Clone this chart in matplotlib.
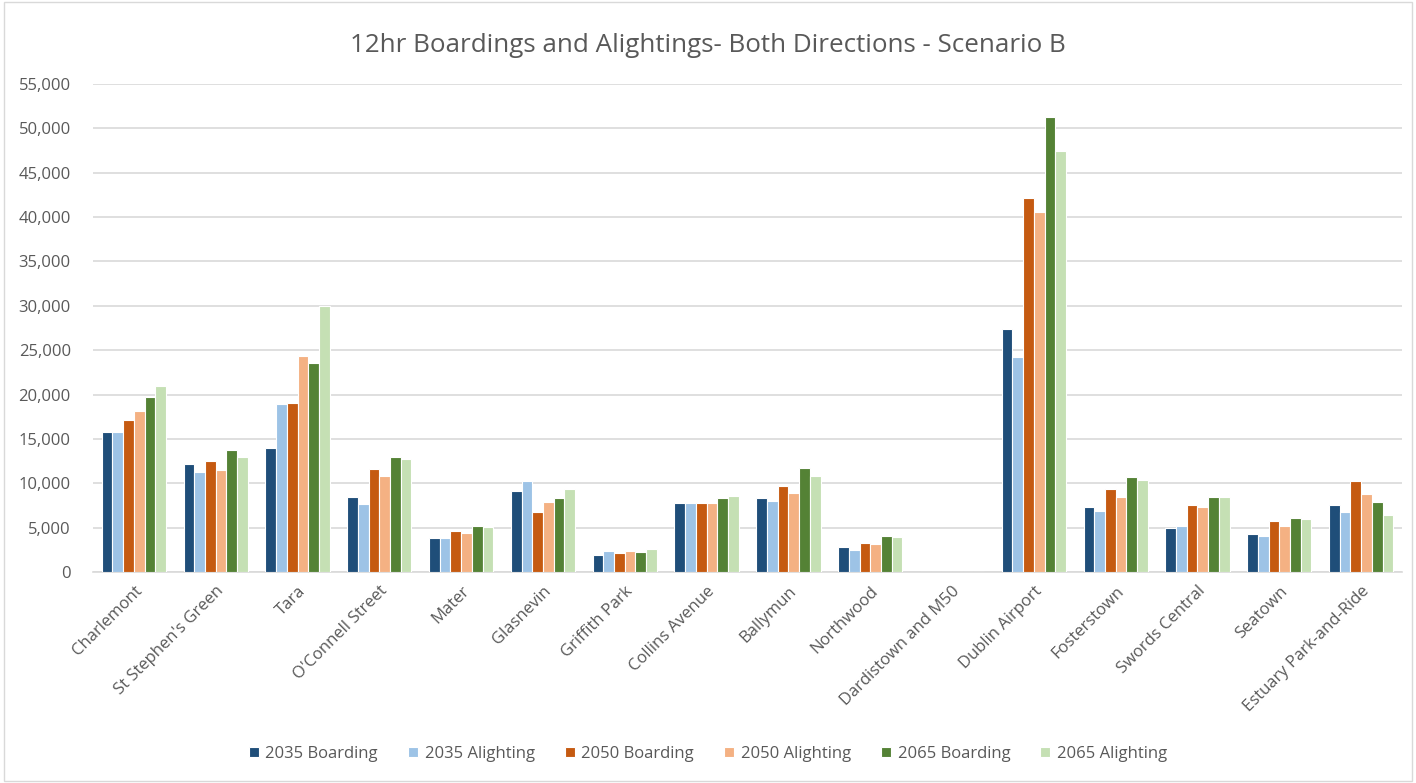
import numpy as np
import matplotlib.pyplot as plt
from matplotlib.ticker import FuncFormatter

# Datos
estaciones = ["Charlemont", "St Stephen's Green", "Tara", "O'Connell Street", "Mater",
              "Glasnevin", "Griffith Park", "Collins Avenue", "Ballymun", "Northwood",
              "Dardistown and M50", "Dublin Airport", "Fosterstown", "Swords Central",
              "Seatown", "Estuary Park-and-Ride"]

b2035 = [15800, 12200, 14000, 8400, 3800, 9100, 1900, 7800, 8300, 2800, 0, 27400, 7300, 5000, 4300, 7600]
a2035 = [15800, 11300, 18900, 7700, 3800, 10200, 2400, 7800, 8000, 2500, 0, 24200, 6900, 5200, 4100, 6800]
b2050 = [17100, 12500, 19100, 11600, 4600, 6800, 2100, 7800, 9700, 3300, 0, 42100, 9400, 7600, 5800, 10300]
a2050 = [18200, 11500, 24300, 10800, 4400, 7900, 2400, 7800, 8900, 3100, 0, 40600, 8400, 7300, 5200, 8800]
b2065 = [19700, 13800, 23500, 13000, 5200, 8300, 2200, 8300, 11700, 4100, 0, 51300, 10700, 8500, 6100, 7900]
a2065 = [21000, 13000, 30000, 12700, 5100, 9300, 2600, 8600, 10800, 3900, 0, 47400, 10400, 8400, 6000, 6400]

series = [b2035, a2035, b2050, a2050, b2065, a2065]
nombres = ["2035 Boarding", "2035 Alighting", "2050 Boarding", "2050 Alighting",
           "2065 Boarding", "2065 Alighting"]
colores = ["#1F4E79", "#9DC3E6", "#C55A11", "#F4B183", "#548235", "#C5E0B4"]

plt.rcParams['font.family'] = ['Open Sans', 'DejaVu Sans']

fig = plt.figure(figsize=(14.16, 7.83), dpi=100)
ax = fig.add_axes([93 / 1416, 1 - 572 / 783, (1402 - 93) / 1416, (572 - 84) / 783])

x = np.arange(len(estaciones))
ancho = 0.131
for i, (vals, nombre, color) in enumerate(zip(series, nombres, colores)):
    ax.bar(x + (i - 2.5) * ancho, vals, ancho, label=nombre, color=color,
           edgecolor='white', linewidth=0.8, zorder=3)

ax.set_xlim(-0.5, len(estaciones) - 0.5)
ax.set_ylim(0, 55000)
ax.set_yticks(np.arange(0, 55001, 5000))
ax.yaxis.set_major_formatter(FuncFormatter(lambda v, p: f"{int(v):,}"))
ax.grid(axis='y', color='#D9D9D9', linewidth=1.2, zorder=0)
ax.set_xticks(x)
ax.set_xticklabels(estaciones, rotation=45, ha='right', rotation_mode='anchor')
ax.tick_params(axis='y', length=0, labelsize=12, colors='#595959', pad=16)
ax.tick_params(axis='x', length=0, labelsize=12, colors='#595959', pad=8)
for lado in ['top', 'right', 'left']:
    ax.spines[lado].set_visible(False)
ax.spines['bottom'].set_color('#D9D9D9')
ax.spines['bottom'].set_linewidth(1.2)

fig.text(0.5, 1 - 45 / 783, "12hr Boardings and Alightings- Both Directions - Scenario B",
         ha='center', va='center', fontsize=18.7, color='#595959')

fig.legend(loc='center', bbox_to_anchor=(0.5, 1 - 754 / 783), ncol=6, frameon=False,
           fontsize=12, labelcolor='#595959', handlelength=0.6, handleheight=0.6,
           columnspacing=1.8, handletextpad=0.4)

# Borde del gráfico
fig.patches.append(plt.Rectangle((0.003, 0.003), 0.994, 0.994, transform=fig.transFigure,
                                 fill=False, edgecolor='#D9D9D9', linewidth=1))

plt.savefig("out.png", dpi=100)
